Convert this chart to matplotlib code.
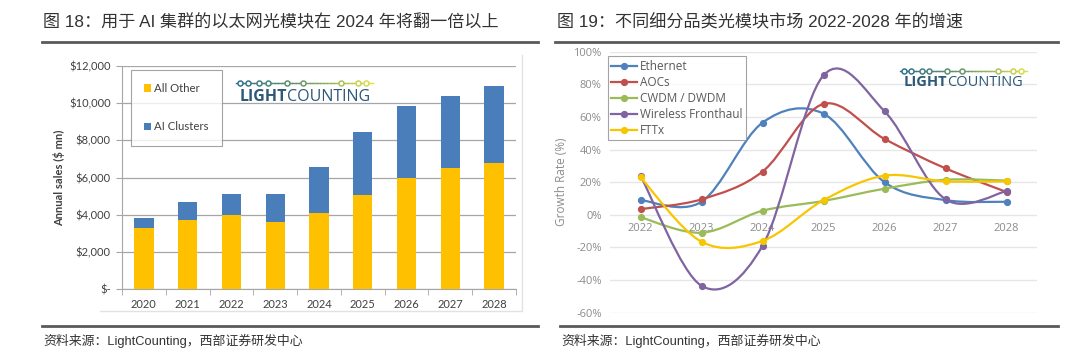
import matplotlib
matplotlib.use("Agg")
import matplotlib.pyplot as plt
import numpy as np
from matplotlib.path import Path
from matplotlib.patches import PathPatch
from matplotlib.lines import Line2D
from matplotlib.ticker import FuncFormatter

# data - left chart (annual sales, $ mn)
years_l = ["2020", "2021", "2022", "2023", "2024", "2025", "2026", "2027", "2028"]
all_other = [3300, 3700, 4000, 3600, 4100, 5050, 6000, 6500, 6800]
ai_clusters = [500, 1000, 1100, 1500, 2450, 3400, 3850, 3900, 4100]

# data - right chart (growth rate, %)
years_r = ["2022", "2023", "2024", "2025", "2026", "2027", "2028"]
ethernet = [9, 8, 56.5, 62, 20, 9, 8]
aocs = [3.5, 9.5, 26.5, 68, 46.5, 28.5, 14]
cwdm = [-1.5, -11, 2.5, 8.5, 16, 21.5, 21]
wireless = [24, -43.5, -19, 85.5, 63.5, 9.5, 14.5]
fttx = [23, -16.5, -16, 9, 24, 20.5, 20.5]

W, H = 1080, 359
fig = plt.figure(figsize=(W / 100, H / 100), dpi=100)
fig.patch.set_facecolor("white")
renderer = fig.canvas.get_renderer()

cjk = ["Liberation Sans", "Noto Sans CJK SC"]
cjk_n = ["Liberation Sans Narrow", "Liberation Sans", "Noto Sans CJK SC"]


def fx(x):
    return x / W


def fy(y):
    return 1 - y / H


def hrule(x0, x1, y, lw=2.0, color="#5a5a5a"):
    fig.add_artist(Line2D([fx(x0), fx(x1)], [fy(y), fy(y)], color=color, lw=lw))


def logo(x0, x1, yc, yt, size):
    # LightCounting logo: dotted line + text
    fr = [0.03, 0.09, 0.17, 0.23, 0.37, 0.49, 0.77, 0.89, 0.95]
    cmap = matplotlib.colors.LinearSegmentedColormap.from_list("lc", ["#2f6f8c", "#6f9a6a", "#e4e24a"])
    n = 40
    xs = np.linspace(x0, x1, n)
    for i in range(n - 1):
        fig.add_artist(Line2D([fx(xs[i]), fx(xs[i + 1])], [fy(yc), fy(yc)],
                              color=cmap(i / (n - 1)), lw=1.0))
    for f in fr:
        fig.add_artist(Line2D([fx(x0 + f * (x1 - x0))], [fy(yc)], marker="o", ms=3.6,
                              mfc="white", mec=cmap(f), mew=1.1))
    t1 = fig.text(fx(x0 + 4), fy(yt), "LIGHT", ha="left", va="center", fontsize=size,
                  fontweight="bold", color="#2d5877", family="Open Sans")
    bb = t1.get_window_extent(renderer)
    fig.text(bb.x1 / W, fy(yt), "COUNTING", ha="left", va="center", fontsize=size,
             color="#2d5877", family="Open Sans")


# ---------------- left panel ----------------
fig.text(fx(43), fy(22), "图 18：用于 AI 集群的以太网光模块在 2024 年将翻一倍以上",
         fontsize=12.3, color="#333333", va="center", family=cjk)
hrule(42, 538, 42)
hrule(42, 538, 326)
fig.text(fx(43), fy(341), "资料来源：LightCounting，西部证券研发中心",
         fontsize=9.3, color="#333333", va="center", family=cjk_n)

# faint chart-area border
fig.add_artist(Line2D([fx(100), fx(522), fx(522)], [fy(311), fy(311), fy(55)],
                      color="#e2e2e2", lw=1))

ax1 = fig.add_axes([fx(122), fy(289), fx(516) - fx(122), fy(66) - fy(289)])
x = np.arange(len(years_l))
ax1.bar(x, all_other, width=0.44, color="#ffc000", label="All Other", zorder=3)
ax1.bar(x, ai_clusters, width=0.44, bottom=all_other, color="#4a7ebb",
        label="AI Clusters", zorder=3)
ax1.set_xlim(-0.5, len(years_l) - 0.5)
ax1.set_ylim(0, 12000)
ax1.set_yticks(np.arange(0, 12001, 2000))
ax1.yaxis.set_major_formatter(FuncFormatter(lambda v, p: "$-" if v == 0 else "${:,.0f}".format(v)))
ax1.set_xticks(x)
ax1.set_xticklabels(years_l)
ax1.set_xticks(np.arange(-0.5, len(years_l), 1), minor=True)
ax1.tick_params(axis="x", which="major", length=0, pad=7, labelsize=8, labelcolor="#404040")
ax1.tick_params(axis="x", which="minor", length=4, color="#a6a6a6")
ax1.tick_params(axis="y", length=4, color="#a6a6a6", labelsize=8, labelcolor="#404040", pad=4)
for lab in ax1.get_xticklabels() + ax1.get_yticklabels():
    lab.set_family("Lato")
ax1.grid(axis="y", color="#a6a6a6", lw=0.9, zorder=0)
for s in ["top", "right"]:
    ax1.spines[s].set_visible(False)
ax1.spines["left"].set_color("#a6a6a6")
ax1.spines["bottom"].set_color("#a6a6a6")
ax1.set_ylabel("Annual sales ($ mn)", fontsize=8, fontweight="bold", color="#404040",
               family="Lato", labelpad=3)
leg1 = ax1.legend(loc="upper left", bbox_to_anchor=(0.022, 0.982), frameon=True, fancybox=False,
                  handlelength=0.6, handleheight=0.6, handletextpad=0.3,
                  labelspacing=2.4, borderpad=1.15, borderaxespad=0, prop={"family": "Lato", "size": 8.2})
leg1.get_frame().set_edgecolor("#8c8c8c")
leg1.get_frame().set_linewidth(0.8)
for t in leg1.get_texts():
    t.set_color("#404040")
leg1.set_zorder(5)
logo(236, 373, 83, 97, 11.5)

# ---------------- right panel ----------------
fig.text(fx(557), fy(22), "图 19：不同细分品类光模块市场 2022-2028 年的增速",
         fontsize=12.3, color="#333333", va="center", family=cjk)
hrule(555, 1058, 42)
hrule(560, 1058, 326)
fig.text(fx(561), fy(341), "资料来源：LightCounting，西部证券研发中心",
         fontsize=9.3, color="#333333", va="center", family=cjk_n)

ax2 = fig.add_axes([fx(610), fy(312.7), fx(1037) - fx(610), fy(51.7) - fy(312.7)])
xr = np.arange(len(years_r))


def smooth_path(xv, yv):
    # Excel-style smoothed line (Bezier through the points)
    pts = np.column_stack([xv, yv]).astype(float)
    n = len(pts)
    verts = [pts[0]]
    codes = [Path.MOVETO]
    for i in range(n - 1):
        p0 = pts[max(i - 1, 0)]
        p1 = pts[i]
        p2 = pts[i + 1]
        p3 = pts[min(i + 2, n - 1)]
        c1 = p1 + (p2 - p0) / 6
        c2 = p2 - (p3 - p1) / 6
        verts += [c1, c2, p2]
        codes += [Path.CURVE4] * 3
    return Path(verts, codes)


series = [("Ethernet", ethernet, "#4f81bd"),
          ("AOCs", aocs, "#c0504d"),
          ("CWDM / DWDM", cwdm, "#9bbb59"),
          ("Wireless Fronthaul", wireless, "#8064a2"),
          ("FTTx", fttx, "#f7c600")]
handles = []
for name, vals, col in series:
    ax2.add_patch(PathPatch(smooth_path(xr, vals), fill=False, edgecolor=col, lw=1.6, zorder=3))
    ax2.plot(xr, vals, ls="none", marker="o", ms=4.2, color=col, zorder=4)
    handles.append(Line2D([], [], color=col, lw=1.6, marker="o", ms=4.2))

ax2.set_xlim(-0.5, len(years_r) - 0.5)
ax2.set_ylim(-60, 100)
ax2.set_yticks(np.arange(-60, 101, 20))
ax2.yaxis.set_major_formatter(FuncFormatter(lambda v, p: "{:.0f}%".format(v)))
ax2.set_xticks(xr)
ax2.set_xticklabels(years_r)
ax2.spines["bottom"].set_position(("data", 0))
for s in ["top", "right", "left", "bottom"]:
    ax2.spines[s].set_color("none")
ax2.tick_params(axis="x", length=0, pad=6, labelsize=8, labelcolor="#8c8c8c")
ax2.tick_params(axis="y", length=0, pad=6, labelsize=8, labelcolor="#8c8c8c")
for lab in ax2.get_xticklabels() + ax2.get_yticklabels():
    lab.set_family("Open Sans")
ax2.grid(axis="y", color="#e6e6e6", lw=1.0, zorder=0)
ax2.set_ylabel("Growth Rate (%)", fontsize=8.5, color="#8c8c8c", family="Open Sans", labelpad=4)
leg2 = ax2.legend(handles, [s[0] for s in series], loc="upper left", bbox_to_anchor=(-0.005, 0.982),
                  frameon=True, fancybox=False, handlelength=2.2, handletextpad=0.2,
                  labelspacing=0.25, borderpad=0.3, borderaxespad=0,
                  prop={"family": "Open Sans", "size": 8.5})
leg2.get_frame().set_edgecolor("#8c8c8c")
leg2.get_frame().set_linewidth(0.8)
for t in leg2.get_texts():
    t.set_color("#595959")
logo(900, 1027, 70.7, 82, 10.5)

fig.savefig("out.png", dpi=100, facecolor="white")
